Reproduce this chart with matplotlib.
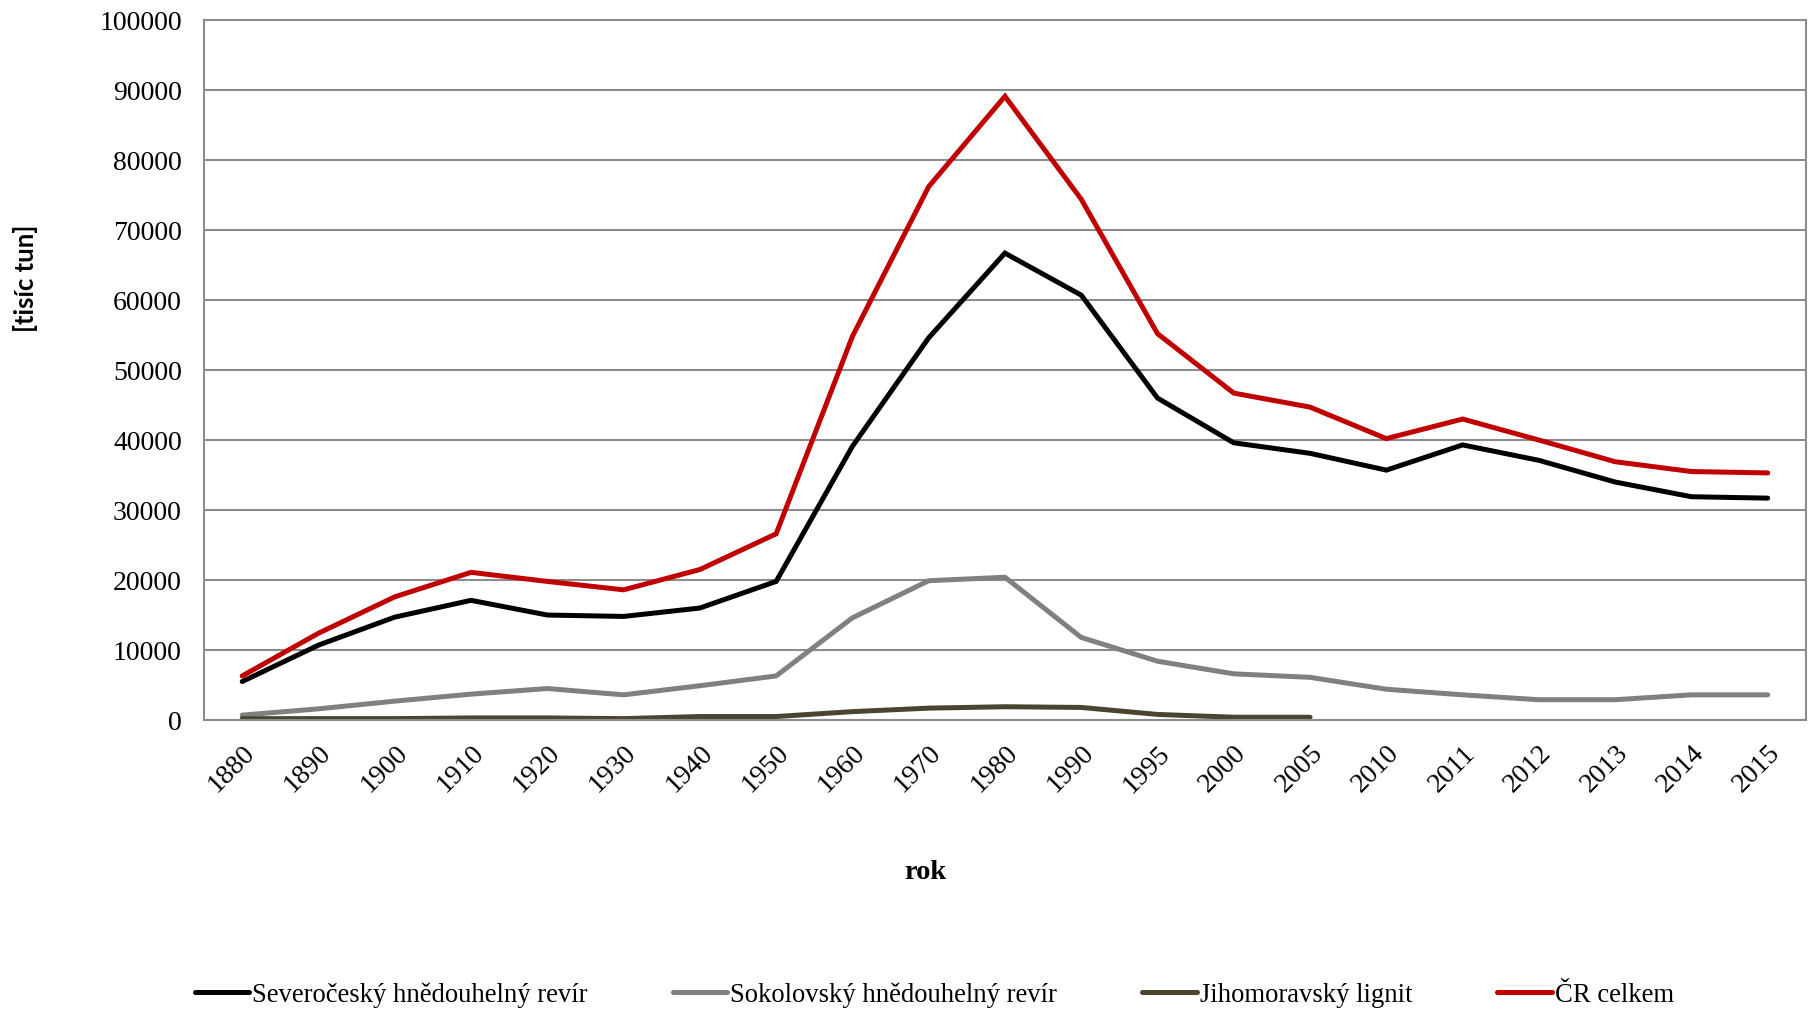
import matplotlib
matplotlib.use("Agg")
import matplotlib.pyplot as plt
import numpy as np

# Coal production by basin, thousand tonnes
years = ["1880", "1890", "1900", "1910", "1920", "1930", "1940", "1950", "1960",
         "1970", "1980", "1990", "1995", "2000", "2005", "2010", "2011", "2012",
         "2013", "2014", "2015"]

severocesky = [5500, 10700, 14700, 17100, 15000, 14800, 16000, 19800, 39100,
               54600, 66700, 60700, 46000, 39600, 38100, 35700, 39300, 37100,
               34000, 31900, 31700]
sokolovsky = [700, 1600, 2700, 3700, 4500, 3600, 4900, 6300, 14600,
              19900, 20400, 11800, 8400, 6600, 6100, 4400, 3600, 2900,
              2900, 3600, 3600]
jihomoravsky = [200, 200, 200, 300, 300, 200, 500, 500, 1200,
                1700, 1900, 1800, 800, 400, 400, None, None, None,
                None, None, None]
cr_celkem = [6300, 12400, 17600, 21100, 19800, 18600, 21500, 26600, 54800,
             76200, 89100, 74400, 55200, 46700, 44700, 40200, 43000, 40000,
             36900, 35500, 35300]

series = [
    ("Severočeský hnědouhelný revír", severocesky, "#000000"),
    ("Sokolovský hnědouhelný revír", sokolovsky, "#808080"),
    ("Jihomoravský lignit", jihomoravsky, "#4A4530"),
    ("ČR celkem", cr_celkem, "#C00000"),
]

serif = ["Liberation Serif", "DejaVu Serif"]
plt.rcParams["font.family"] = serif

fig = plt.figure(figsize=(18.14, 10.11), dpi=100)
ax = fig.add_axes([0.1125, 0.2878, 0.883, 0.6924])

x = np.arange(len(years))
for label, vals, color in series:
    y = np.array([np.nan if v is None else v for v in vals], dtype=float)
    ax.plot(x, y, color=color, lw=3.6, label=label,
            solid_capstyle="round", solid_joinstyle="miter")

ax.set_xlim(-0.5, len(years) - 0.5)
ax.set_ylim(0, 100000)
ax.set_yticks(np.arange(0, 100001, 10000))
ax.set_yticklabels([str(v) for v in range(0, 100001, 10000)])
ax.set_xticks(x)
ax.set_xticklabels(years, rotation=45, ha="right", va="top",
                   rotation_mode="anchor")

ax.grid(axis="y", color="#8C8C8C", lw=1.5)
ax.set_axisbelow(True)
for s in ax.spines.values():
    s.set_color("#8C8C8C")
    s.set_linewidth(1.5)
ax.tick_params(axis="both", length=0, labelsize=20, colors="#000000")
ax.tick_params(axis="y", pad=16)
ax.tick_params(axis="x", pad=15)

fig.text(0.51, 0.1365, "rok", ha="center", va="center", fontsize=20.5,
         fontweight="bold", family=serif)
fig.text(0.014, 0.725, "[tisíc tun]", ha="center", va="center", rotation=90,
         fontsize=18.5, fontweight="bold", family=["Lato", "DejaVu Sans"])

fig.legend(loc="center", bbox_to_anchor=(0.515, 0.016), ncol=4,
           frameon=False, fontsize=19.2, handlelength=2.05, handletextpad=0.1,
           columnspacing=3.2, borderaxespad=0)

fig.savefig("out.png", dpi=100)
